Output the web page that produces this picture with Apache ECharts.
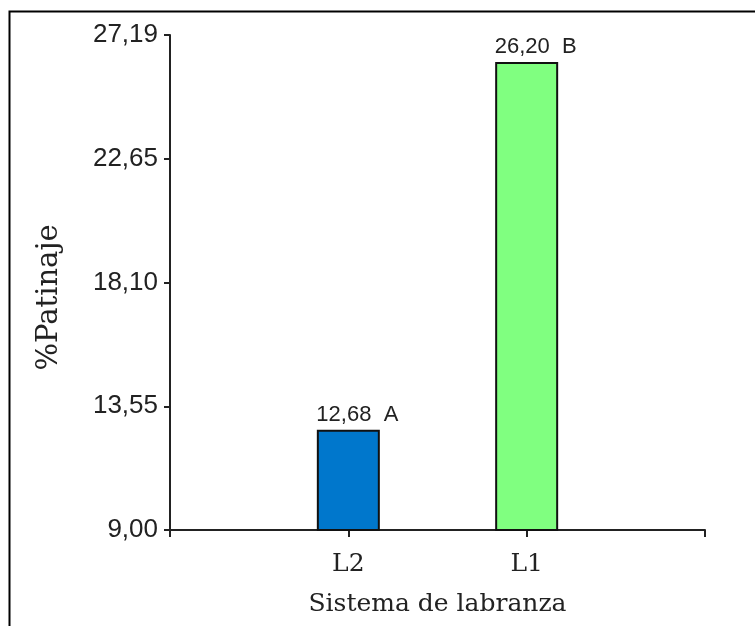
<!DOCTYPE html>
<html>
<head>
<meta charset="utf-8">
<script src="https://cdn.jsdelivr.net/npm/echarts@6/dist/echarts.min.js"></script>
<style>html,body{margin:0;padding:0;background:#fff}#c{width:755px;height:626px}</style>
</head>
<body>
<div id="c"></div>
<script>
var categories = ['L2', 'L1'];
var values = [12.68, 26.20];
var letters = ['A', 'B'];
var barColors = ['#0077CC', '#80FF80'];
var yTickLabels = ['9,00', '13,55', '18,10', '22,65', '27,19'];
var yMin = 9.00, yMax = 27.19;

var chart = echarts.init(document.getElementById('c'));
var serif = 'DejaVu Serif';
var sans = 'Liberation Sans';
chart.setOption({
  animation: false,
  backgroundColor: '#fff',
  graphic: [{
    type: 'rect', left: 7, top: 9, shape: {width: 770, height: 650},
    style: {fill: 'none', stroke: '#000', lineWidth: 2}
  }],
  grid: {left: 170, right: 50, top: 35, bottom: 96},
  xAxis: {
    type: 'value', min: 0, max: categories.length + 1, interval: 1,
    splitLine: {show: false},
    axisLine: {lineStyle: {color: '#222', width: 2}},
    axisTick: {show: true, length: 7, lineStyle: {color: '#222', width: 2}},
    axisLabel: {
      margin: 22, color: '#222', fontFamily: serif, fontSize: 25,
      formatter: function (v) { return categories[v - 1] || ''; }
    },
    name: 'Sistema de labranza', nameLocation: 'middle', nameGap: 62,
    nameTextStyle: {color: '#222', fontFamily: serif, fontSize: 25}
  },
  yAxis: {
    type: 'value', min: yMin, max: yMax, interval: (yMax - yMin) / 4,
    splitLine: {show: false},
    axisLine: {show: true, lineStyle: {color: '#222', width: 2}},
    axisTick: {show: true, length: 6, lineStyle: {color: '#222', width: 2}},
    axisLabel: {
      margin: 12, color: '#222', fontFamily: sans, fontSize: 26,
      showMaxLabel: true, showMinLabel: true,
      formatter: function (v, i) { return yTickLabels[i]; }
    },
    name: '%Patinaje', nameLocation: 'middle', nameGap: 106, nameRotate: 90,
    nameTextStyle: {color: '#222', fontFamily: serif, fontSize: 29, padding: [0, 0, 0, -30]}
  },
  series: [{
    type: 'bar', barWidth: 63,
    data: values.map(function (v, i) {
      return {value: [i + 1, v], itemStyle: {color: barColors[i]}};
    }),
    itemStyle: {borderColor: '#111', borderWidth: 2},
    label: {
      show: true, position: 'top', distance: 4, offset: [9, 0],
      color: '#222', fontFamily: sans, fontSize: 22,
      formatter: function (p) { return values[p.dataIndex].toFixed(2).replace('.', ',') + '  ' + letters[p.dataIndex]; }
    }
  }]
});
</script>
</body>
</html>
